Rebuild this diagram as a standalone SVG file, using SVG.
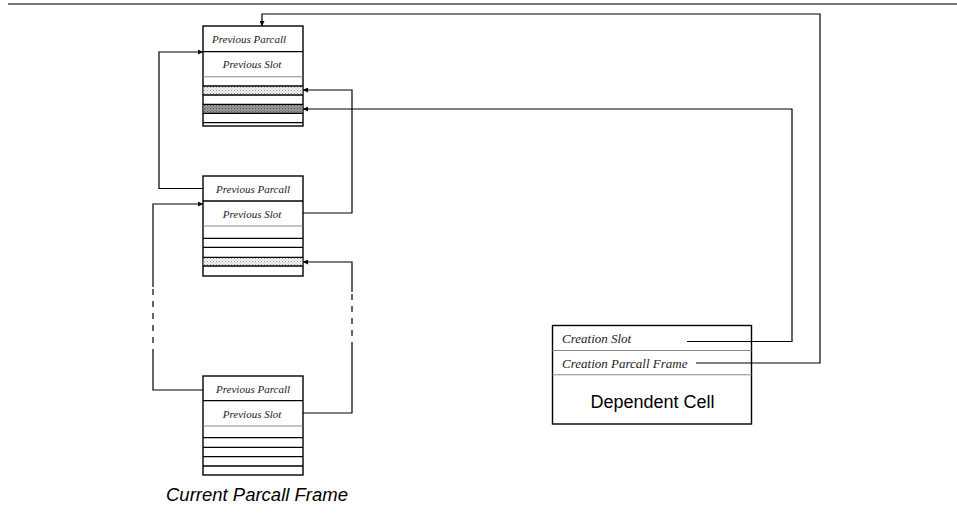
<svg xmlns="http://www.w3.org/2000/svg" width="957" height="514" viewBox="0 0 957 514">
<style>
.box{fill:#fff;stroke:#000;stroke-width:1.4}
.row{stroke:#000;stroke-width:1.3;fill:none}
.rowg{stroke:#888;stroke-width:1.1;fill:none}
.lbl{font-family:"Liberation Serif",serif;font-style:italic;font-size:11px;fill:#222}
.lbl2{font-family:"Liberation Serif",serif;font-style:italic;font-size:13px;fill:#222}
.sans{font-family:"Liberation Sans",Arial,sans-serif;fill:#000}
.con{fill:none;stroke:#000;stroke-width:1.2}
.dash{fill:none;stroke:#000;stroke-width:1.2;stroke-dasharray:6 6}
</style>
<defs>
<pattern id="light" width="3" height="3" patternUnits="userSpaceOnUse">
<rect width="3" height="3" fill="#f2f2f2"/>
<rect width="1" height="1" fill="#999"/>
<rect x="1.5" y="1.5" width="1" height="1" fill="#bbb"/>
</pattern>
<pattern id="dark" width="3" height="3" patternUnits="userSpaceOnUse">
<rect width="3" height="3" fill="#9a9a9a"/>
<rect width="1" height="1" fill="#555"/>
<rect x="1.5" y="1.5" width="1" height="1" fill="#666"/>
</pattern>
<marker id="arr" viewBox="0 0 10 10" refX="10" refY="5" markerWidth="7" markerHeight="5" orient="auto" markerUnits="userSpaceOnUse">
<path d="M0,0 L10,5 L0,10 z" fill="#000"/>
</marker>
</defs>

<line x1="8" y1="4" x2="957" y2="4" stroke="#777" stroke-width="2"/>

<g id="frame-top">
<rect class="box" x="203" y="26" width="100" height="100"/>
<rect x="203.7" y="86" width="98.6" height="9" fill="url(#light)"/>
<rect x="203.7" y="104.3" width="98.6" height="9" fill="url(#dark)"/>
<line class="row" x1="203" y1="51.7" x2="303" y2="51.7"/>
<line class="rowg" x1="203" y1="76.7" x2="303" y2="76.7"/>
<line class="row" x1="203" y1="86" x2="303" y2="86"/>
<line class="row" x1="203" y1="95" x2="303" y2="95"/>
<line class="row" x1="203" y1="104.3" x2="303" y2="104.3"/>
<line class="row" x1="203" y1="113.3" x2="303" y2="113.3"/>
<line class="row" x1="203" y1="122.7" x2="303" y2="122.7"/>
<text class="lbl" x="249" y="42.5" text-anchor="middle">Previous Parcall</text>
<text class="lbl" x="252" y="68" text-anchor="middle">Previous Slot</text>
</g>

<g id="frame-mid">
<rect class="box" x="203" y="176" width="100" height="100"/>
<rect x="203.7" y="257.3" width="98.6" height="8.7" fill="url(#light)"/>
<line class="row" x1="203" y1="201" x2="303" y2="201"/>
<line class="rowg" x1="203" y1="226" x2="303" y2="226"/>
<line class="row" x1="203" y1="238.3" x2="303" y2="238.3"/>
<line class="row" x1="203" y1="247.3" x2="303" y2="247.3"/>
<line class="row" x1="203" y1="257.3" x2="303" y2="257.3"/>
<line class="row" x1="203" y1="266" x2="303" y2="266"/>
<text class="lbl" x="253" y="192.5" text-anchor="middle">Previous Parcall</text>
<text class="lbl" x="252" y="218" text-anchor="middle">Previous Slot</text>
</g>

<g id="frame-bottom">
<rect class="box" x="203" y="376" width="100" height="99"/>
<line class="row" x1="203" y1="400.7" x2="303" y2="400.7"/>
<line class="rowg" x1="203" y1="426" x2="303" y2="426"/>
<line class="row" x1="203" y1="437.7" x2="303" y2="437.7"/>
<line class="row" x1="203" y1="447.3" x2="303" y2="447.3"/>
<line class="row" x1="203" y1="456.7" x2="303" y2="456.7"/>
<line class="row" x1="203" y1="466" x2="303" y2="466"/>
<text class="lbl" x="253" y="392.5" text-anchor="middle">Previous Parcall</text>
<text class="lbl" x="252" y="418" text-anchor="middle">Previous Slot</text>
</g>

<g id="caption">
<text class="sans" x="166" y="501" font-size="18.5" font-style="italic">Current Parcall Frame</text>
</g>

<g id="dependent-cell">
<rect class="box" x="552.5" y="325.5" width="199" height="98.5"/>
<line class="rowg" x1="552.5" y1="350.5" x2="751.5" y2="350.5"/>
<line class="rowg" x1="552.5" y1="374.8" x2="751.5" y2="374.8"/>
<text class="lbl2" x="562" y="343">Creation Slot</text>
<text class="lbl2" x="562" y="367.5">Creation Parcall Frame</text>
<text class="sans" x="652.5" y="407.5" font-size="18" text-anchor="middle">Dependent Cell</text>
</g>

<g id="connectors">
<path class="con" d="M696,363 H820 V14 H262 V26" marker-end="url(#arr)"/>
<path class="con" d="M687,341.5 H792 V109 H303" marker-end="url(#arr)"/>
<path class="con" d="M203,188.5 H159 V52 H203" marker-end="url(#arr)"/>
<path class="con" d="M303,213 H352 V90 H303" marker-end="url(#arr)"/>
<path class="con" d="M203,390 H153 V355"/>
<path class="dash" d="M153,355 V287"/>
<path class="con" d="M153,287 V204 H203" marker-end="url(#arr)"/>
<path class="con" d="M303,413 H352 V348"/>
<path class="dash" d="M352,348 V292"/>
<path class="con" d="M352,292 V262 H303" marker-end="url(#arr)"/>
</g>
</svg>
